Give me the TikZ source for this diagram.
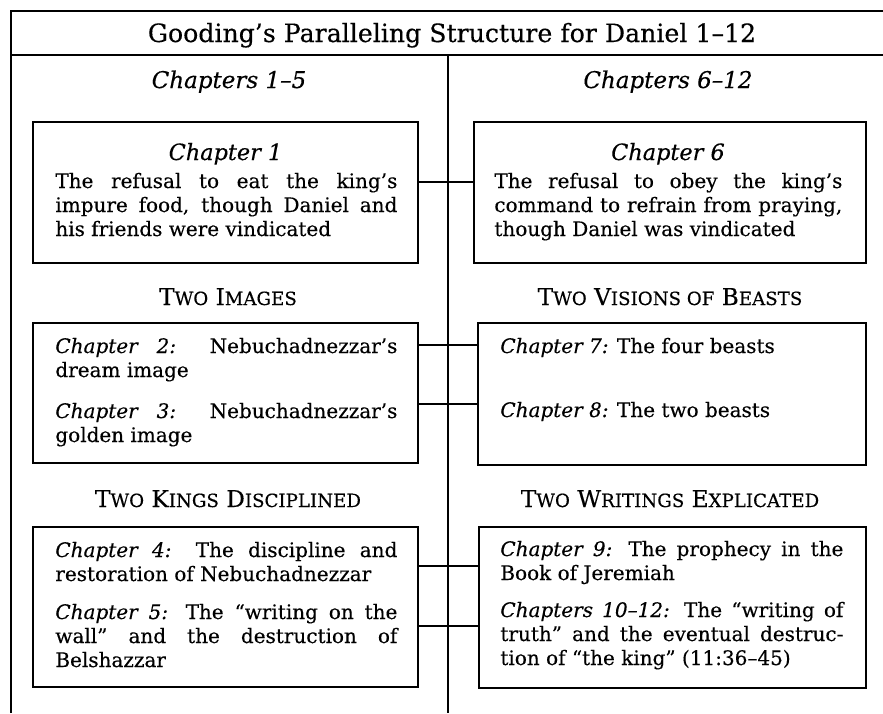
\documentclass[tikz,border=0pt]{standalone}
\usepackage{fontspec}
\setmainfont{DejaVu Serif}[FakeBold=0.35]
\usetikzlibrary{calc}
\newcommand{\boxtext}[2]{\parbox[t]{#1}{\fontsize{10}{12}\selectfont #2}}
\newcommand{\lc}[1]{{\fontsize{9.1}{10}\selectfont #1}}
\begin{document}
\begin{tikzpicture}[x=0.5pt,y=-0.5pt,
  frame/.style={line width=1pt},
  panel/.style={draw, line width=1.2pt, inner sep=0pt, outer sep=0pt},
  conn/.style={line width=1.2pt},
  txt/.style={anchor=base west, inner sep=0pt},
  ctxt/.style={anchor=base, inner sep=0pt},
  head/.style={anchor=base, inner sep=0pt, font=\fontsize{11.6}{13}\selectfont},
  colhead/.style={anchor=base, inner sep=0pt, font=\fontsize{11.5}{14}\selectfont\itshape},
  chead/.style={anchor=base, inner sep=0pt, font=\fontsize{11.2}{13}\selectfont\itshape},
]
\useasboundingbox (0,0) rectangle (883,713);
% frame
\coordinate (fbl) at (11,713);
\coordinate (ftl) at (11,11);
\coordinate (ftr) at (883,11);
\coordinate (fml) at (11,55);
\coordinate (fmr) at (883,55);
\coordinate (cmt) at (448,55);
\coordinate (cmb) at (448,713);
\draw[frame] (fbl) -- (ftl) -- (ftr);
\draw[frame] (fml) -- (fmr);
\draw[frame] (cmt) -- (cmb);
% title and column headings
\node[ctxt, font=\fontsize{12.6}{15}\selectfont] (title) at (452,42) {Gooding's Paralleling Structure for Daniel 1--12};
\node[colhead] (colL) at (229,88) {Chapters 1--5};
\node[colhead] (colR) at (668,88) {Chapters 6--12};
% boxes
\node[panel, minimum width=192.5pt, minimum height=70.5pt] (b1) at (225.5,192.5) {};
\node[panel, minimum width=196pt, minimum height=70.5pt] (b6) at (670,192.5) {};
\node[panel, minimum width=192.5pt, minimum height=70pt] (b2) at (225.5,393) {};
\node[panel, minimum width=194pt, minimum height=71pt] (b7) at (672,394) {};
\node[panel, minimum width=192.5pt, minimum height=80pt] (b4) at (225.5,607) {};
\node[panel, minimum width=193.5pt, minimum height=80.5pt] (b9) at (672.5,607.5) {};
% section headings
\node[head] (h1) at (228,305) {T\lc{WO} I\lc{MAGES}};
\node[head] (h2) at (670,305) {T\lc{WO} V\lc{ISIONS OF} B\lc{EASTS}};
\node[head] (h3) at (228,507) {T\lc{WO} K\lc{INGS} D\lc{ISCIPLINED}};
\node[head] (h4) at (670,507) {T\lc{WO} W\lc{RITINGS} E\lc{XPLICATED}};
% box 1
\node[chead] (c1h) at (225.5,160) {Chapter 1};
\node[txt] (c1) at (55,188) {\boxtext{171pt}{The refusal to eat the king's\linebreak impure food, though Daniel and\linebreak his friends were vindicated}};
% box 6
\node[chead] (c6h) at (668,160) {Chapter 6};
\node[txt] (c6) at (494,188) {\boxtext{174pt}{The refusal to obey the king's\linebreak command to refrain from praying,\linebreak though Daniel was vindicated}};
% box 2
\node[txt] (c2) at (55,353) {\boxtext{171pt}{\textit{Chapter 2:} Nebuchadnezzar's\linebreak dream image}};
\node[txt] (c3) at (55,418) {\boxtext{171pt}{\textit{Chapter 3:} Nebuchadnezzar's\linebreak golden image}};
% box 7
\node[txt] (c7) at (500,353) {\boxtext{171.5pt}{\textit{Chapter 7:} The four beasts}};
\node[txt] (c8) at (500,417) {\boxtext{171.5pt}{\textit{Chapter 8:} The two beasts}};
% box 4
\node[txt] (c4) at (55,557) {\boxtext{171pt}{\textit{Chapter 4:} The discipline and\linebreak restoration of Nebuchadnezzar}};
\node[txt] (c5) at (55,619) {\boxtext{171pt}{\textit{Chapter 5:} The ``writing on the\linebreak wall'' and the destruction of\linebreak Belshazzar}};
% box 9
\node[txt] (c9) at (500,556) {\boxtext{171.5pt}{\textit{Chapter 9:} The prophecy in the\linebreak Book of Jeremiah}};
\node[txt] (c10) at (500,617) {\boxtext{171.5pt}{\textit{Chapters 10--12:} The ``writing of\linebreak truth'' and the eventual destruc-\linebreak tion of ``the king'' (11:36--45)}};
% connectors
\coordinate (j1) at (448,182);
\coordinate (j2) at (448,345);
\coordinate (j3) at (448,404);
\coordinate (j4) at (448,566);
\coordinate (j5) at (448,626);
\draw[conn] (b1.east |- j1) -- (b6.west |- j1);
\draw[conn] (b2.east |- j2) -- (b7.west |- j2);
\draw[conn] (b2.east |- j3) -- (b7.west |- j3);
\draw[conn] (b4.east |- j4) -- (b9.west |- j4);
\draw[conn] (b4.east |- j5) -- (b9.west |- j5);
\end{tikzpicture}
\end{document}
